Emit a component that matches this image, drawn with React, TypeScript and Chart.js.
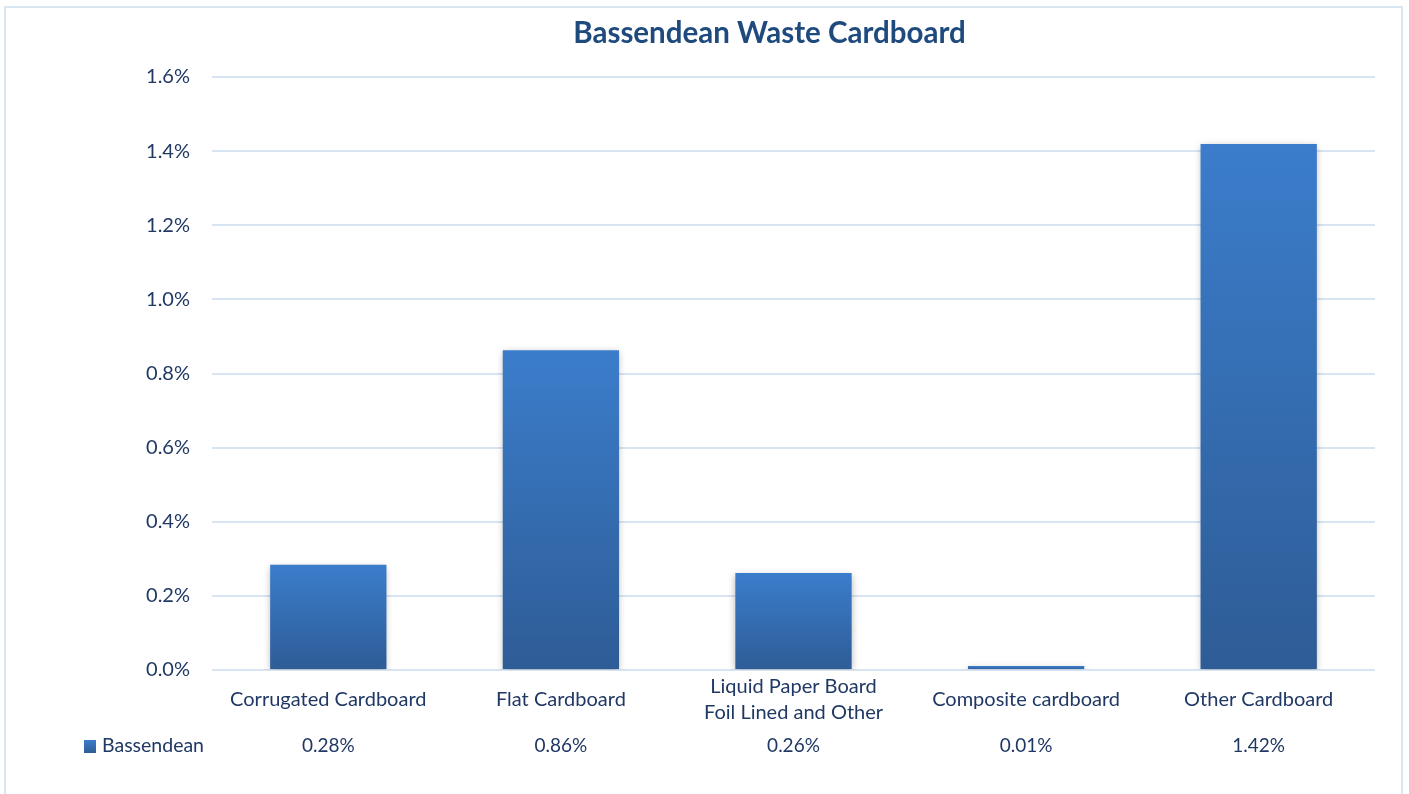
import React, { useEffect, useRef } from "react";
import { Chart, registerables } from "chart.js";

Chart.register(...registerables);

const TITLE = "Bassendean Waste Cardboard";
const SERIES_NAME = "Bassendean";
const CATEGORIES: (string | string[])[] = [
  "Corrugated Cardboard",
  "Flat Cardboard",
  ["Liquid Paper Board", "Foil Lined and Other"],
  "Composite cardboard",
  "Other Cardboard",
];
const VALUES = [0.284, 0.863, 0.262, 0.011, 1.419];
const Y_MIN = 0;
const Y_MAX = 1.6;
const Y_STEP = 0.2;

const FONT = "Lato, 'Liberation Sans', sans-serif";
const TEXT = "#203864";
const TITLE_C = "#1F4A7E";
const TOP_C = "#3B7DCB";
const BOT_C = "#2E5C96";

export default function App() {
  const ref = useRef<HTMLCanvasElement | null>(null);
  useEffect(() => {
    if (!ref.current) return;
    const shadowPlugin = {
      id: "barShadow",
      beforeDatasetsDraw(chart: any) {
        const c = chart.ctx;
        c.save();
        c.shadowColor = "rgba(0,0,0,0.28)";
        c.shadowBlur = 7;
        c.shadowOffsetX = 0;
        c.shadowOffsetY = 2;
      },
      afterDatasetsDraw(chart: any) {
        chart.ctx.restore();
      },
    };
    const titlePlugin = {
      id: "excelTitle",
      afterDraw(chart: any) {
        const c = chart.ctx;
        c.save();
        c.font = `bold 29.5px ${FONT}`;
        c.fillStyle = TITLE_C;
        c.textAlign = "center";
        c.textBaseline = "middle";
        c.fillText(TITLE, 769.5, 33);
        c.restore();
      },
    };
    const tablePlugin = {
      id: "dataTable",
      afterDraw(chart: any) {
        const c = chart.ctx;
        const xs = chart.scales.x;
        const rowY = 746;
        c.save();
        c.font = `19px ${FONT}`;
        c.fillStyle = TEXT;
        c.textAlign = "center";
        c.textBaseline = "middle";
        VALUES.forEach((v, i) => {
          c.fillText(v.toFixed(2) + "%", xs.getPixelForValue(i), rowY);
        });
        const g = c.createLinearGradient(0, rowY - 6, 0, rowY + 7);
        g.addColorStop(0, TOP_C);
        g.addColorStop(1, BOT_C);
        c.fillStyle = g;
        c.fillRect(84, rowY - 6, 12, 13);
        c.fillStyle = TEXT;
        c.textAlign = "left";
        c.font = `19.5px ${FONT}`;
        c.fillText(SERIES_NAME, 102, rowY);
        c.restore();
      },
    };
    const chart = new Chart(ref.current, {
      type: "bar",
      data: {
        labels: CATEGORIES,
        datasets: [
          {
            label: SERIES_NAME,
            data: VALUES,
            categoryPercentage: 1,
            barPercentage: 0.5,
            backgroundColor: (ctx: any) => {
              const ch = ctx.chart;
              if (!ch.chartArea || ctx.type !== "data" || !ch.scales.y) return TOP_C;
              const ys = ch.scales.y;
              const top = ys.getPixelForValue(ctx.raw);
              const base = ys.getPixelForValue(0);
              if (!isFinite(top) || !isFinite(base) || base - top < 1) return TOP_C;
              const g = ch.ctx.createLinearGradient(0, top, 0, base);
              g.addColorStop(0, TOP_C);
              g.addColorStop(1, BOT_C);
              return g;
            },
          },
        ],
      },
      options: {
        animation: false,
        responsive: false,
        maintainAspectRatio: false,
        layout: { padding: { left: 0, right: 34, top: 77, bottom: 0 } },
        plugins: {
          legend: { display: false },
          tooltip: { enabled: false },
          title: { display: false },
        },
        scales: {
          y: {
            min: Y_MIN,
            max: Y_MAX,
            ticks: {
              stepSize: Y_STEP,
              padding: 22,
              color: TEXT,
              font: { family: FONT, size: 20 },
              callback: (v: any) => Number(v).toFixed(1) + "%",
            },
            grid: { color: "#D9E4F2", lineWidth: 2, drawTicks: false },
            border: { display: false },
            afterFit: (s: any) => {
              s.width = 212;
            },
          },
          x: {
            ticks: {
              color: TEXT,
              padding: 17,
              crossAlign: "center",
              maxRotation: 0,
              autoSkip: false,
              font: { family: FONT, size: 20, lineHeight: 1.3 },
            },
            grid: { display: false, drawTicks: false },
            border: { display: false },
            afterFit: (s: any) => {
              s.height = 124;
            },
          },
        },
      },
      plugins: [shadowPlugin, tablePlugin, titlePlugin],
    } as any);
    return () => chart.destroy();
  }, []);
  return (
    <div style={{ position: "fixed", left: 0, top: 0, width: 1409, height: 794, background: "#fff", overflow: "hidden" }}>
      <div
        style={{
          position: "absolute",
          left: 4,
          top: 6,
          width: 1395,
          height: 820,
          border: "2px solid #DAE5F2",
        }}
      />
      <canvas ref={ref} width={1409} height={794} style={{ position: "absolute", left: 0, top: 0 }} />
    </div>
  );
}
